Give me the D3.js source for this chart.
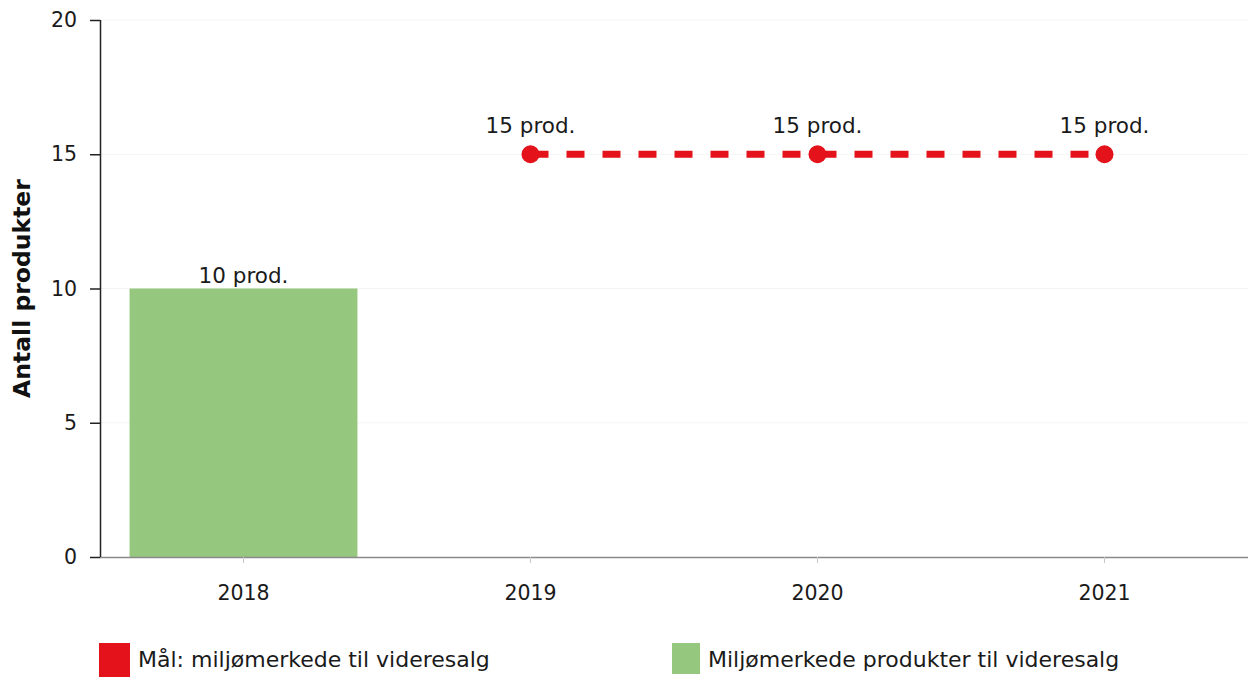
<!DOCTYPE html>
<html><head><meta charset="utf-8">
<script src="https://cdn.jsdelivr.net/npm/d3@7"></script>
<style>body{margin:0;background:#fff}svg{display:block;font-family:"DejaVu Sans",Verdana,sans-serif}</style>
</head><body><svg id="c" width="1248" height="677"></svg>
<script>
const categories = ["2018","2019","2020","2021"];
const barValues = [{year:"2018", value:10}];
const targetValues = [{year:"2019", value:15},{year:"2020", value:15},{year:"2021", value:15}];
const yTicks = [0,5,10,15,20];
const yTitle = "Antall produkter";
const legendItems = [{label:"Mål: miljømerkede til videresalg", color:"#e3121b"},{label:"Miljømerkede produkter til videresalg", color:"#95c87e"}];

const svg = d3.select("#c");
const x = d3.scaleBand().domain(categories).range([100, 1248]).paddingInner(0.206).paddingOuter(0.103);
const xc = d => x(d) + x.bandwidth()/2;
const y = d3.scaleLinear().domain([0,20]).range([557, 20]);

// grid
svg.append("g").selectAll("line").data(yTicks.slice(1)).join("line")
  .attr("x1",100).attr("x2",1248).attr("y1",d=>y(d)).attr("y2",d=>y(d))
  .attr("stroke","#f4f4f4").attr("stroke-width",1);

// bars
svg.append("g").selectAll("rect").data(barValues).join("rect")
  .attr("x",d=>x(d.year)).attr("width",x.bandwidth())
  .attr("y",d=>y(d.value)).attr("height",d=>y(0)-y(d.value))
  .attr("fill","#95c87e");
svg.append("g").selectAll("text").data(barValues).join("text")
  .attr("x",d=>xc(d.year)).attr("y",d=>y(d.value)-6)
  .attr("text-anchor","middle").attr("font-size",21.5).attr("fill","#1a1a1a")
  .text(d=>d.value+" prod.");

// x axis
const xAxis = d3.axisBottom(x).tickSize(6).tickPadding(22);
const gx = svg.append("g").attr("transform",`translate(0,${y(0)})`).call(xAxis);
gx.select(".domain").attr("stroke","#8a8a8a").attr("stroke-width",1.5).attr("d","M100,0.5H1248");
gx.selectAll(".tick line").attr("stroke","#c8c8c8");
gx.selectAll(".tick text").attr("font-size",20.5).attr("fill","#1a1a1a").attr("font-family","DejaVu Sans");

// y axis
const yAxis = d3.axisLeft(y).tickValues(yTicks).tickSize(10).tickPadding(13);
const gy = svg.append("g").attr("transform","translate(100,0)").call(yAxis);
gy.select(".domain").attr("stroke","#222").attr("stroke-width",1.5).attr("d","M0.5,"+y(20)+"V"+y(0));
gy.selectAll(".tick line").attr("stroke","#222").attr("stroke-width",1.5);
gy.selectAll(".tick text").attr("font-size",20.5).attr("fill","#1a1a1a").attr("font-family","DejaVu Sans");

svg.append("text").attr("transform",`translate(30,${(y(0)+y(20))/2}) rotate(-90)`)
  .attr("text-anchor","middle").attr("font-size",23.5).attr("font-weight","bold").attr("fill","#111")
  .text(yTitle);

// target line
const line = d3.line().x(d=>xc(d.year)).y(d=>y(d.value));
svg.append("path").datum(targetValues).attr("d",line)
  .attr("fill","none").attr("stroke","#e3121b").attr("stroke-width",7).attr("stroke-dasharray","18,18");
svg.append("g").selectAll("circle").data(targetValues).join("circle")
  .attr("cx",d=>xc(d.year)).attr("cy",d=>y(d.value)).attr("r",9).attr("fill","#e3121b");
svg.append("g").selectAll("text").data(targetValues).join("text")
  .attr("x",d=>xc(d.year)).attr("y",d=>y(d.value)-21)
  .attr("text-anchor","middle").attr("font-size",21.5).attr("fill","#1a1a1a")
  .text(d=>d.value+" prod.");

// legend
const lx = [99, 672];
const lg = svg.append("g").selectAll("g").data(legendItems).join("g")
  .attr("transform",(d,i)=>`translate(${lx[i]},643)`);
lg.append("rect").attr("width",(d,i)=>i?28:31).attr("height",(d,i)=>i?31:34).attr("fill",d=>d.color);
lg.append("text").attr("x",(d,i)=>i?36:39).attr("y",24).attr("font-size",22).attr("fill","#1a1a1a").text(d=>d.label);
</script></body></html>
